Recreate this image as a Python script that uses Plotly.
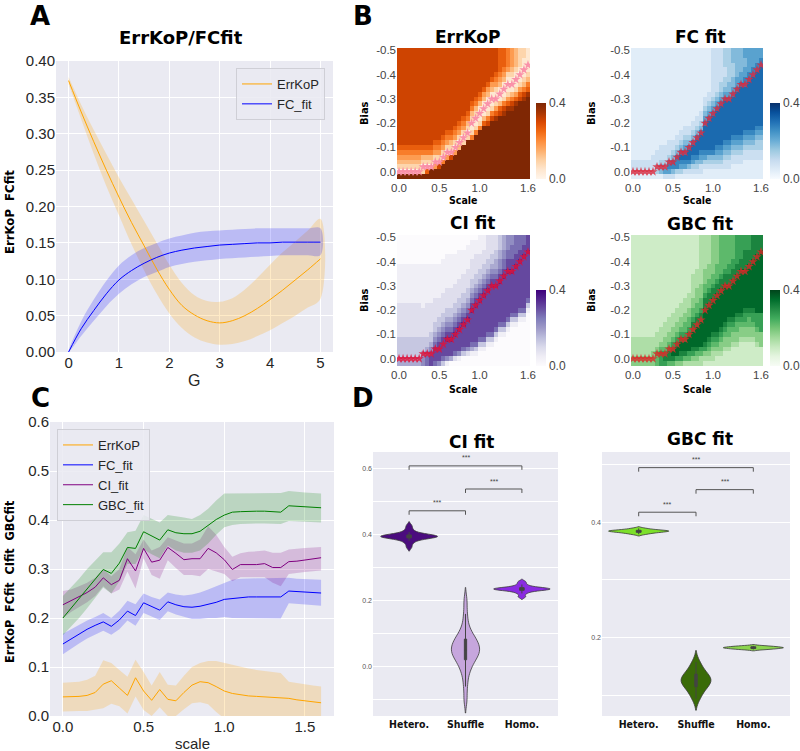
import plotly.graph_objects as go

# ---------------- Panel A data ----------------
g_vals = [0.0, 0.25, 0.5, 0.75, 1.0, 1.25, 1.5, 1.75, 2.0, 2.25, 2.5, 2.75, 3.0,
          3.25, 3.5, 3.75, 4.0, 4.25, 4.5, 4.75, 5.0]
errkop_a = [0.373, 0.33, 0.289, 0.25, 0.213, 0.178, 0.146, 0.114, 0.086, 0.064, 0.051,
            0.043, 0.040, 0.043, 0.050, 0.060, 0.072, 0.085, 0.099, 0.113, 0.128]
errkop_a_hi = [0.378, 0.34, 0.305, 0.272, 0.24, 0.21, 0.18, 0.15, 0.12, 0.095, 0.078,
               0.07, 0.069, 0.074, 0.086, 0.102, 0.12, 0.137, 0.152, 0.167, 0.183]
errkop_a_lo = [0.368, 0.32, 0.272, 0.228, 0.188, 0.148, 0.112, 0.08, 0.053, 0.033, 0.02,
               0.013, 0.01, 0.011, 0.015, 0.022, 0.03, 0.04, 0.05, 0.061, 0.073]
fc_a = [0.0, 0.032, 0.057, 0.08, 0.099, 0.112, 0.122, 0.13, 0.136, 0.14, 0.143, 0.145,
        0.147, 0.148, 0.149, 0.15, 0.15, 0.151, 0.151, 0.151, 0.151]
fc_a_hi = [0.0, 0.042, 0.072, 0.098, 0.119, 0.133, 0.143, 0.15, 0.156, 0.16, 0.164, 0.166,
           0.167, 0.168, 0.169, 0.17, 0.17, 0.17, 0.17, 0.17, 0.17]
fc_a_lo = [0.0, 0.022, 0.043, 0.063, 0.08, 0.093, 0.103, 0.11, 0.117, 0.121, 0.124, 0.126,
           0.128, 0.129, 0.13, 0.131, 0.132, 0.133, 0.133, 0.133, 0.133]

# ---------------- Panel C data ----------------
scale_c = [0.0, 0.05, 0.1, 0.15, 0.2, 0.25, 0.3, 0.35, 0.4, 0.45, 0.5, 0.55, 0.6, 0.65, 0.7,
           0.75, 0.8, 0.85, 0.9, 0.95, 1.0, 1.05, 1.1, 1.15, 1.2, 1.25, 1.3, 1.35, 1.4, 1.45,
           1.5, 1.55, 1.6]
gbc_c = [0.200, 0.220, 0.240, 0.260, 0.280, 0.299, 0.291, 0.312, 0.344, 0.342, 0.376, 0.367,
         0.359, 0.380, 0.374, 0.372, 0.372, 0.377, 0.389, 0.401, 0.410, 0.416, 0.417, 0.418,
         0.418, 0.418, 0.417, 0.416, 0.429, 0.428, 0.426, 0.425, 0.425]
gbc_c_hi = [0.245, 0.262, 0.28, 0.3, 0.318, 0.334, 0.334, 0.352, 0.375, 0.378, 0.41, 0.402,
            0.395, 0.41, 0.408, 0.405, 0.402, 0.41, 0.423, 0.44, 0.454, 0.454, 0.455, 0.455,
            0.455, 0.455, 0.455, 0.455, 0.459, 0.457, 0.456, 0.455, 0.454]
gbc_c_lo = [0.165, 0.182, 0.2, 0.22, 0.24, 0.262, 0.25, 0.275, 0.31, 0.31, 0.34, 0.33, 0.322,
            0.348, 0.338, 0.333, 0.333, 0.338, 0.352, 0.37, 0.385, 0.39, 0.392, 0.393, 0.393,
            0.393, 0.393, 0.392, 0.398, 0.397, 0.396, 0.396, 0.395]
ci_c = [0.227, 0.235, 0.243, 0.252, 0.263, 0.282, 0.268, 0.277, 0.321, 0.296, 0.342, 0.314,
        0.318, 0.344, 0.332, 0.319, 0.321, 0.321, 0.342, 0.333, 0.319, 0.299, 0.309, 0.309,
        0.309, 0.311, 0.303, 0.303, 0.315, 0.316, 0.318, 0.320, 0.323]
ci_c_hi = [0.255, 0.258, 0.265, 0.272, 0.282, 0.3, 0.285, 0.3, 0.345, 0.33, 0.36, 0.338, 0.345,
           0.365, 0.358, 0.352, 0.352, 0.36, 0.387, 0.37, 0.345, 0.325, 0.332, 0.335, 0.336,
           0.338, 0.333, 0.333, 0.34, 0.342, 0.343, 0.344, 0.345]
ci_c_lo = [0.2, 0.212, 0.222, 0.232, 0.245, 0.265, 0.25, 0.258, 0.295, 0.26, 0.322, 0.288, 0.28,
           0.318, 0.302, 0.288, 0.288, 0.285, 0.3, 0.295, 0.29, 0.275, 0.283, 0.283, 0.283,
           0.283, 0.272, 0.265, 0.29, 0.292, 0.294, 0.296, 0.297]
fc_c = [0.147, 0.157, 0.167, 0.177, 0.185, 0.192, 0.183, 0.196, 0.214, 0.205, 0.231, 0.223,
        0.216, 0.233, 0.227, 0.223, 0.222, 0.224, 0.228, 0.232, 0.238, 0.24, 0.242, 0.243,
        0.243, 0.243, 0.243, 0.243, 0.255, 0.254, 0.253, 0.252, 0.251]
fc_c_hi = [0.168, 0.177, 0.186, 0.195, 0.202, 0.21, 0.2, 0.215, 0.235, 0.228, 0.25, 0.243,
           0.238, 0.252, 0.248, 0.246, 0.248, 0.252, 0.258, 0.265, 0.272, 0.278, 0.28, 0.281,
           0.281, 0.281, 0.281, 0.281, 0.282, 0.28, 0.279, 0.278, 0.278]
fc_c_lo = [0.126, 0.137, 0.148, 0.158, 0.166, 0.174, 0.166, 0.177, 0.195, 0.184, 0.21, 0.203,
           0.196, 0.214, 0.207, 0.202, 0.198, 0.198, 0.2, 0.2, 0.202, 0.2, 0.199, 0.199, 0.199,
           0.199, 0.199, 0.199, 0.23, 0.228, 0.227, 0.226, 0.225]
err_c = [0.039, 0.039, 0.04, 0.042, 0.048, 0.065, 0.072, 0.057, 0.042, 0.078, 0.051, 0.032,
         0.054, 0.034, 0.031, 0.048, 0.063, 0.07, 0.068, 0.06, 0.051, 0.046, 0.043, 0.041,
         0.04, 0.039, 0.039, 0.038, 0.036, 0.033, 0.031, 0.029, 0.027]
err_c_hi = [0.068, 0.069, 0.07, 0.074, 0.082, 0.114, 0.108, 0.094, 0.08, 0.115, 0.09, 0.062,
            0.09, 0.064, 0.062, 0.082, 0.1, 0.108, 0.112, 0.112, 0.108, 0.105, 0.1, 0.097,
            0.094, 0.092, 0.09, 0.088, 0.07, 0.067, 0.064, 0.062, 0.06]
err_c_lo = [0.009, 0.009, 0.01, 0.01, 0.013, 0.016, 0.025, 0.02, 0.005, 0.04, 0.012, 0.0,
            0.018, 0.0, 0.0, 0.014, 0.026, 0.028, 0.024, 0.008, -0.005, -0.01, -0.012, -0.012,
            -0.012, -0.012, -0.012, -0.012, -0.005, -0.005, -0.005, -0.005, -0.005]

# ---------------- Panel B data ----------------
hm_scale = scale_c
hm_bias = [0.02, 0.0, -0.02, -0.04, -0.06, -0.08, -0.1, -0.12, -0.14, -0.16, -0.18, -0.2,
           -0.22, -0.24, -0.26, -0.28, -0.3, -0.32, -0.34, -0.36, -0.38, -0.4, -0.42, -0.44,
           -0.46, -0.48, -0.5]
star_bias = [0.0, 0.0, 0.0, 0.0, 0.0, 0.0, -0.02, -0.02, -0.02, -0.04, -0.04, -0.06, -0.08,
             -0.08, -0.1, -0.12, -0.14, -0.16, -0.2, -0.22, -0.24, -0.26, -0.28, -0.3, -0.3,
             -0.32, -0.34, -0.36, -0.36, -0.38, -0.4, -0.42, -0.44]
# each string = one column (scale), cell levels 0..9 from bias +0.02 (bottom) upward;
# the last level repeats to the top
errkop_cols = [
    "90234567", "90234567", "90234567", "90234567", "90234567", "91234567",
    "92023567", "96023567", "99023567", "994024567", "997024567", "9995024567",
    "99994024567", "99997023567", "999994024567", "9999993024567", "99999992024567",
    "999999992023567", "9" * 8 + "521023567", "9" * 9 + "521023567",
    "9" * 10 + "521013567", "9" * 11 + "631013467", "9" * 11 + "7521013467",
    "9" * 12 + "7521013467", "9" * 12 + "86420124567", "9" * 13 + "763101345666",
    "9" * 13 + "87521013456", "9" * 14 + "864210124555", "9" * 14 + "8753101234444",
    "9" * 15 + "864210123333", "9" * 16 + "76421012222", "9" * 16 + "87532101122",
    "9" * 17 + "8653210111"]
fc_cols = [
    "12221", "12221", "12221", "12221", "12221", "122221", "1332221", "14432221",
    "25432221", "256532221", "246643221", "1366643221", "13567643221", "125676543221",
    "124677643221", "1235677643221", "12346777643221", "122456777643221",
    "112356" + "7" * 5 + "65432211", "112346" + "7" * 6 + "654322111",
    "112346" + "7" * 7 + "654322222", "1123456" + "7" * 7 + "6543222222",
    "1123456" + "7" * 8 + "654332222", "11223456" + "7" * 8 + "6543322333",
    "11223456" + "7" * 8 + "6544333333", "111223456" + "7" * 8 + "654433344",
    "111223456" + "7" * 9 + "65544444", "111223456" + "7" * 10 + "6554444",
    "1111223456" + "7" * 9 + "6655445", "1111223456" + "7" * 10 + "66555",
    "1111223456" + "7" * 11 + "66555", "11112233456" + "7" * 11 + "66555",
    "11112233456" + "7" * 12 + "6655"]
ci_cols = [
    "4333332222222111111110", "4333332222222111111110", "4333332222222111111110",
    "4333332222222111111110", "4333332222222111111110", "4333332222222111111110",
    "5543332222221111111110", "6654332222222111111110", "7765433222222111111110",
    "6777654332222211111110", "5777765433222211111110", "36777765433222211111110",
    "157778765433222211111110", "047778765433222211111110", "026777876543322221111110",
    "0157777876543322221111110", "003677778765433222211111" + "0",
    "0025777778765433222211111" + "0", "00146" + "7" * 6 + "8765433" + "2222" + "1111" + "0",
    "00136" + "7" * 7 + "8765433" + "2222" + "111" + "0",
    "000136" + "7" * 7 + "8765433" + "222" + "111" + "1",
    "000136" + "7" * 8 + "8765433" + "222" + "11" + "1",
    "0000136" + "7" * 8 + "876543" + "3222" + "2",
    "0000136" + "7" * 9 + "87654" + "33222" + "2",
    "00000136" + "7" * 8 + "87654" + "43322" + "2",
    "000000136" + "7" * 8 + "87655" + "4433",
    "000000136" + "7" * 9 + "8766" + "55444",
    "0000000136" + "7" * 9 + "8776" + "6555",
    "00000000136" + "7" * 8 + "8776" + "6655",
    "00000000136" + "7" * 9 + "877" + "6666",
    "000000000136" + "7" * 9 + "877" + "666",
    "000000000136" + "7" * 10 + "877" + "66",
    "00000000000136" + "7" * 9 + "8777"]
gbc_cols = [
    "4433332", "4433332", "4433332", "4433332", "4433332", "4443332", "55543332",
    "666543332", "6765443332", "57765443332", "578765443332", "4688765443332",
    "46788765443332", "357887655443332", "3568887655443332", "34678887765544333332",
    "345788887765544433332", "3356888887765544433333",
    "23467" + "8" * 7 + "77655444333", "234567" + "8" * 7 + "7765544433",
    "2334567" + "8" * 7 + "776554444", "2234567" + "8" * 8 + "776555444",
    "2234456" + "7" + "8" * 8 + "7765555", "222344567" + "8" * 8 + "7765555",
    "2223445567" + "8" * 7 + "776655", "2222344567" + "8" * 8 + "776655",
    "22223445567" + "8" * 8 + "776666", "22222344567" + "8" * 9 + "776666",
    "222223445667" + "8" * 8 + "777766", "22222344556" + "7" + "8" * 9 + "777666",
    "22222344566" + "7" + "8" * 10 + "77777", "22223445666" + "8" * 12 + "7777",
    "22224446666" + "8" * 13 + "777"]


def to_z(cols):
    levels = []
    for s in cols:
        s = (s + s[-1] * 27)[:27]
        levels.append([int(ch) * 0.4 / 9 for ch in s])
    return [[levels[c][r] for c in range(len(cols))] for r in range(27)]


# ---------------- Panel D data ----------------
cats = ["Hetero.", "Shuffle", "Homo."]
ci_hetero = [0.362, 0.374, 0.381, 0.386, 0.389, 0.391, 0.392, 0.393, 0.394, 0.394, 0.395,
             0.395, 0.396, 0.397, 0.398, 0.400, 0.403, 0.408, 0.416, 0.427]
ci_shuffle = [-0.10, -0.06, -0.03, -0.01, 0.0, 0.01, 0.02, 0.025, 0.03, 0.035, 0.04, 0.045,
              0.05, 0.05, 0.055, 0.06, 0.065, 0.07, 0.075, 0.08, 0.085, 0.09, 0.10, 0.11,
              0.13, 0.16, 0.20]
ci_homo = [0.212, 0.222, 0.228, 0.231, 0.233, 0.234, 0.235, 0.235, 0.236, 0.237, 0.238,
           0.240, 0.243, 0.249, 0.257]
gbc_hetero = [0.379, 0.381, 0.382, 0.383, 0.384, 0.384, 0.385, 0.385, 0.386, 0.387, 0.389]
gbc_shuffle = [0.095, 0.105, 0.112, 0.117, 0.121, 0.124, 0.127, 0.129, 0.132, 0.136, 0.141,
               0.148, 0.158]
gbc_homo = [0.180, 0.181, 0.182, 0.183, 0.183, 0.184, 0.185, 0.186]
bracket_pairs = [[0, 2], [1, 2], [0, 1]]
ci_bracket_y = [0.608, 0.538, 0.472]
gbc_bracket_y = [0.494, 0.456, 0.417]

# ---------------- styling ----------------
W, H = 800, 751
BASE = "Liberation Sans, Arial, sans-serif"
HEAVY = "DejaVu Sans, sans-serif"
NARROW = "Liberation Sans Narrow, DejaVu Sans Condensed, Arial Narrow, sans-serif"
BG = "#EAEAF2"
TXT = "#262626"


def xd(a, b):
    return [a / W, b / W]


def yd(top, bot):
    return [1 - bot / H, 1 - top / H]


def band(x, lo, hi, color, xa, ya, shape="linear"):
    return go.Scatter(x=list(x) + list(x)[::-1], y=list(hi) + list(lo)[::-1],
                      fill="toself", fillcolor=color, line=dict(width=0, shape=shape),
                      mode="lines", hoverinfo="skip", showlegend=False, xaxis=xa, yaxis=ya)


fig = go.Figure()

# Panel A
fig.add_trace(band(g_vals, errkop_a_lo, errkop_a_hi, "rgba(255,165,0,0.22)", "x", "y", "spline"))
fig.add_trace(band(g_vals, fc_a_lo, fc_a_hi, "rgba(0,0,255,0.2)", "x", "y", "spline"))
fig.add_trace(go.Scatter(x=g_vals, y=errkop_a, mode="lines", name="ErrKoP",
                         line=dict(color="#FFA500", width=1, shape="spline"),
                         xaxis="x", yaxis="y", legend="legend"))
fig.add_trace(go.Scatter(x=g_vals, y=fc_a, mode="lines", name="FC_fit",
                         line=dict(color="#0000FF", width=1, shape="spline"),
                         xaxis="x", yaxis="y", legend="legend"))

# Panel C
c_series = [("ErrKoP", err_c, err_c_lo, err_c_hi, "#FFA500", "rgba(255,165,0,0.22)"),
            ("FC_fit", fc_c, fc_c_lo, fc_c_hi, "#0000FF", "rgba(0,0,255,0.2)"),
            ("CI_fit", ci_c, ci_c_lo, ci_c_hi, "#800080", "rgba(128,0,128,0.2)"),
            ("GBC_fit", gbc_c, gbc_c_lo, gbc_c_hi, "#008000", "rgba(0,128,0,0.2)")]
for name, m, lo, hi, col, fcol in c_series:
    fig.add_trace(band(scale_c, lo, hi, fcol, "x6", "y6"))
for name, m, lo, hi, col, fcol in c_series:
    fig.add_trace(go.Scatter(x=scale_c, y=m, mode="lines", name=name,
                             line=dict(color=col, width=1), xaxis="x6", yaxis="y6",
                             legend="legend2"))

# Panel B heatmaps
hm_specs = [(errkop_cols, "Oranges", "x2", "y2", 536, 179, "rgba(250,140,165,0.95)"),
            (fc_cols, "Blues", "x3", "y3", 770, 179, "rgba(220,40,60,0.8)"),
            (ci_cols, "Purples", "x4", "y4", 536, 366, "rgba(220,20,60,0.85)"),
            (gbc_cols, "Greens", "x5", "y5", 770, 366, "rgba(220,40,40,0.8)")]
for cols, cs, xa, ya, cbx, cby, starcol in hm_specs:
    fig.add_trace(go.Heatmap(
        x=hm_scale, y=hm_bias, z=to_z(cols), colorscale=cs, zmin=0, zmax=0.4,
        xaxis=xa, yaxis=ya, hoverinfo="skip",
        colorbar=dict(x=cbx / W, xanchor="left", y=1 - cby / H, yanchor="bottom",
                      len=76 / H, lenmode="fraction", thickness=10, thicknessmode="pixels",
                      outlinewidth=0, tickvals=[0, 0.4], ticktext=["0.0", "0.4"],
                      ticks="", ypad=0, xpad=0, ticklabelposition="outside",
                      tickfont=dict(size=12, family=BASE, color="#444"))))
    fig.add_trace(go.Scatter(x=hm_scale, y=star_bias, mode="markers", xaxis=xa, yaxis=ya,
                             marker=dict(symbol="star", size=7, color=starcol,
                                         line=dict(width=0)),
                             showlegend=False, hoverinfo="skip"))

# Panel D violins
v_specs = [("x7", "y7", [ci_hetero, ci_shuffle, ci_homo],
            ["#4B0C7E", "#C6A6DD", "#8A2BE2"], [1.0, 0.5, 1.0], [0.006, 0.02, 0.004]),
           ("x8", "y8", [gbc_hetero, gbc_shuffle, gbc_homo],
            ["#7CE02A", "#3A6B08", "#8BD44E"], [1.05, 0.52, 1.05], [0.0015, 0.01, 0.0012])]
for xa, ya, samples, colors, widths, bws in v_specs:
    for cat, s, col, w, bw in zip(cats, samples, colors, widths, bws):
        fig.add_trace(go.Violin(x=[cat] * len(s), y=s, xaxis=xa, yaxis=ya, fillcolor=col,
                                line=dict(color="#3a3a3a", width=0.8), opacity=1,
                                width=w, bandwidth=bw, points=False, scalemode="width",
                                box=dict(visible=True, width=0.08, fillcolor="#444",
                                         line=dict(color="#444", width=1)),
                                meanline=dict(visible=False), showlegend=False,
                                hoverinfo="skip"))

shapes = []
annotations = []
for xa, ya, by, tick, toff in [("x7", "y7", ci_bracket_y, 0.012, 0.024),
                               ("x8", "y8", gbc_bracket_y, 0.007, 0.014)]:
    for (a, b), yv in zip(bracket_pairs, by):
        for x0, y0, x1, y1 in [(a, yv - tick, a, yv), (a, yv, b, yv), (b, yv, b, yv - tick)]:
            shapes.append(dict(type="line", xref=xa, yref=ya, x0=x0, y0=y0, x1=x1, y1=y1,
                               line=dict(color="#555", width=1)))
        annotations.append(dict(text="***", x=(a + b) / 2, y=yv + toff, xref=xa, yref=ya,
                                showarrow=False, font=dict(size=7, color="#444", family=BASE)))


def ann(text, xp, yp, size, family, color="#000", angle=0):
    annotations.append(dict(text=text, x=xp / W, y=1 - yp / H, xref="paper", yref="paper",
                            showarrow=False, textangle=angle, xanchor="center",
                            yanchor="middle", font=dict(size=size, family=family, color=color)))


for t, x, y in [("A", 40, 16), ("B", 363, 16), ("C", 40, 398), ("D", 363, 398)]:
    ann("<b>" + t + "</b>", x, y, 26, HEAVY)
ann("<b>ErrKoP/FCfit</b>", 181, 38, 18, HEAVY)
ann("<b>ErrKoP</b>", 467, 37, 17, HEAVY)
ann("<b>FC fit</b>", 700, 37, 17, HEAVY)
ann("<b>CI fit</b>", 472, 223, 17, HEAVY)
ann("<b>GBC fit</b>", 700, 224, 17, HEAVY)
ann("<b>CI fit</b>", 471, 442, 17, HEAVY)
ann("<b>GBC fit</b>", 700, 439, 17, HEAVY)
ann("<b>ErrKoP  FCfit</b>", 9, 212, 13, NARROW, angle=-90)
ann("<b>ErrKoP  FCfit  CIfit  GBCfit</b>", 9, 582, 12.5, NARROW, angle=-90)
ann("G", 194, 381, 16, BASE, TXT)
ann("scale", 192, 743, 15, BASE, TXT)
for x, y in [(365, 113), (592, 113), (365, 300), (592, 300)]:
    ann("<b>Bias</b>", x, y, 11, NARROW, angle=-90)
for x, y in [(463, 200), (697, 200), (463, 389), (697, 389)]:
    ann("<b>Scale</b>", x, y, 10.5, NARROW)

tick15 = dict(size=15, family=BASE, color=TXT)
seab = dict(showgrid=True, gridcolor="white", gridwidth=1, zeroline=False, showline=False,
            ticks="", tickfont=tick15, automargin=False)
hm_x = dict(range=[-0.025, 1.625], tickvals=[0, 0.5, 1.0, 1.6],
            ticktext=["0.0", "0.5", "1.0", "1.6"], showgrid=False, zeroline=False,
            ticks="", automargin=False, tickfont=dict(size=11.5, family=BASE, color="#444"))
hm_y = dict(range=[0.03, -0.51], tickvals=[-0.5, -0.4, -0.3, -0.2, -0.1, 0.0],
            ticktext=["-0.5", "-0.4", "-0.3", "-0.2", "-0.1", "0.0"], showgrid=False,
            zeroline=False, ticks="", automargin=False,
            tickfont=dict(size=11.5, family=BASE, color="#444"))
vx = dict(type="category", categoryorder="array", categoryarray=cats, range=[-0.64, 2.64],
          showgrid=False, zeroline=False, ticks="", automargin=False,
          tickvals=cats, ticktext=["<b>" + c + "</b>" for c in cats],
          tickfont=dict(size=10.5, family=NARROW, color="#111"))
vy_font = dict(size=7, family=BASE, color="#555")

fig.update_layout(
    width=W, height=H, margin=dict(l=0, r=0, t=0, b=0, autoexpand=False),
    paper_bgcolor="white", plot_bgcolor=BG, violinmode="overlay",
    xaxis=dict(domain=xd(56, 333), range=[-0.25, 5.25], tickvals=[0, 1, 2, 3, 4, 5],
               anchor="y", **seab),
    yaxis=dict(domain=yd(61, 352), range=[0, 0.4],
               tickvals=[0, 0.05, 0.1, 0.15, 0.2, 0.25, 0.3, 0.35, 0.4], tickformat=".2f",
               anchor="x", **seab),
    xaxis2=dict(domain=xd(397, 530), anchor="y2", **hm_x),
    yaxis2=dict(domain=yd(48, 179), anchor="x2", **hm_y),
    xaxis3=dict(domain=xd(631, 763), anchor="y3", **hm_x),
    yaxis3=dict(domain=yd(48, 179), anchor="x3", **hm_y),
    xaxis4=dict(domain=xd(397, 530), anchor="y4", **hm_x),
    yaxis4=dict(domain=yd(235, 366), anchor="x4", **hm_y),
    xaxis5=dict(domain=xd(631, 763), anchor="y5", **hm_x),
    yaxis5=dict(domain=yd(235, 366), anchor="x5", **hm_y),
    xaxis6=dict(domain=xd(50, 334), range=[-0.08, 1.68], tickvals=[0, 0.5, 1.0, 1.5],
                ticktext=["0.0", "0.5", "1.0", "1.5"], anchor="y6", **seab),
    yaxis6=dict(domain=yd(422, 716), range=[0, 0.6],
                tickvals=[0, 0.1, 0.2, 0.3, 0.4, 0.5, 0.6], tickformat=".1f",
                anchor="x6", **seab),
    xaxis7=dict(domain=xd(373, 558), anchor="y7", **vx),
    yaxis7=dict(domain=yd(452, 716), range=[-0.149, 0.65], anchor="x7",
                tickvals=[-0.1, 0, 0.1, 0.2, 0.3, 0.4, 0.5, 0.6],
                ticktext=["", "0.0", "", "0.2", "", "0.4", "", "0.6"], automargin=False,
                showgrid=True, gridcolor="white", zeroline=False, ticks="", tickfont=vy_font),
    xaxis8=dict(domain=xd(602, 790), anchor="y8", **vx),
    yaxis8=dict(domain=yd(452, 716), range=[0.065, 0.521], anchor="x8",
                tickvals=[0.1, 0.2, 0.3, 0.4, 0.5], ticktext=["", "0.2", "", "0.4", ""],
                automargin=False,
                showgrid=True, gridcolor="white", zeroline=False, ticks="", tickfont=vy_font),
    legend=dict(x=236 / W, y=1 - 68 / H, xanchor="left", yanchor="top",
                bgcolor="rgba(234,234,242,0.85)", bordercolor="#cfcfd6", borderwidth=1,
                font=dict(size=13, family=BASE, color=TXT), itemwidth=30, tracegroupgap=0),
    legend2=dict(x=57 / W, y=1 - 429 / H, xanchor="left", yanchor="top",
                 bgcolor="rgba(234,234,242,0.85)", bordercolor="#cfcfd6", borderwidth=1,
                 font=dict(size=13, family=BASE, color=TXT), itemwidth=30, tracegroupgap=0),
    shapes=shapes, annotations=annotations,
)

fig.write_html("out.html", config={"displayModeBar": False},
               post_script="document.body.style.margin='0';document.body.style.padding='0';"
                           "document.body.style.overflow='hidden';")
